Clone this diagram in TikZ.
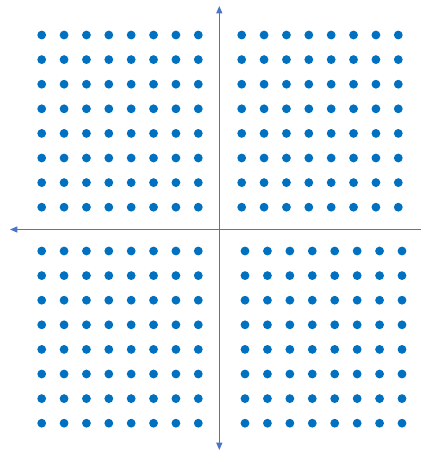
\documentclass[tikz,border=0pt]{standalone}
\usetikzlibrary{arrows.meta}
\definecolor{dotblue}{HTML}{0070C0}
\definecolor{axisblue}{HTML}{4A76C4}
\begin{document}
\begin{tikzpicture}[x=0.75pt,y=-0.75pt,
  dotmark/.style={fill=dotblue},
  axisline/.style={draw=axisblue,line width=0.9pt,-{Triangle[length=5.5pt,width=4.5pt]}}]
\useasboundingbox (0,0) rectangle (421,451);
\coordinate (o) at (219.3,229.5);
\coordinate (top) at (219.3,6);
\coordinate (bot) at (219.3,450);
\coordinate (lft) at (10,229.5);
\coordinate (rgt) at (425,229.5);
\draw[axisline] (o) -- (top);
\draw[axisline] (o) -- (bot);
\draw[axisline] (o) -- (lft);
\draw[draw=axisblue,line width=0.9pt] (o) -- (rgt);
% top-left
\foreach \i in {0,...,7}{\foreach \j in {0,...,7}{
  \fill[dotmark] (41.7+22.37*\i,35+24.6*\j) circle (4.4);
  \fill[dotmark] (241.7+22.37*\i,35+24.6*\j) circle (4.4);
  \fill[dotmark] (41.7+22.37*\i,251+24.6*\j) circle (4.4);
  \fill[dotmark] (245+22.43*\i,251+24.6*\j) circle (4.4);
}}
\end{tikzpicture}
\end{document}
